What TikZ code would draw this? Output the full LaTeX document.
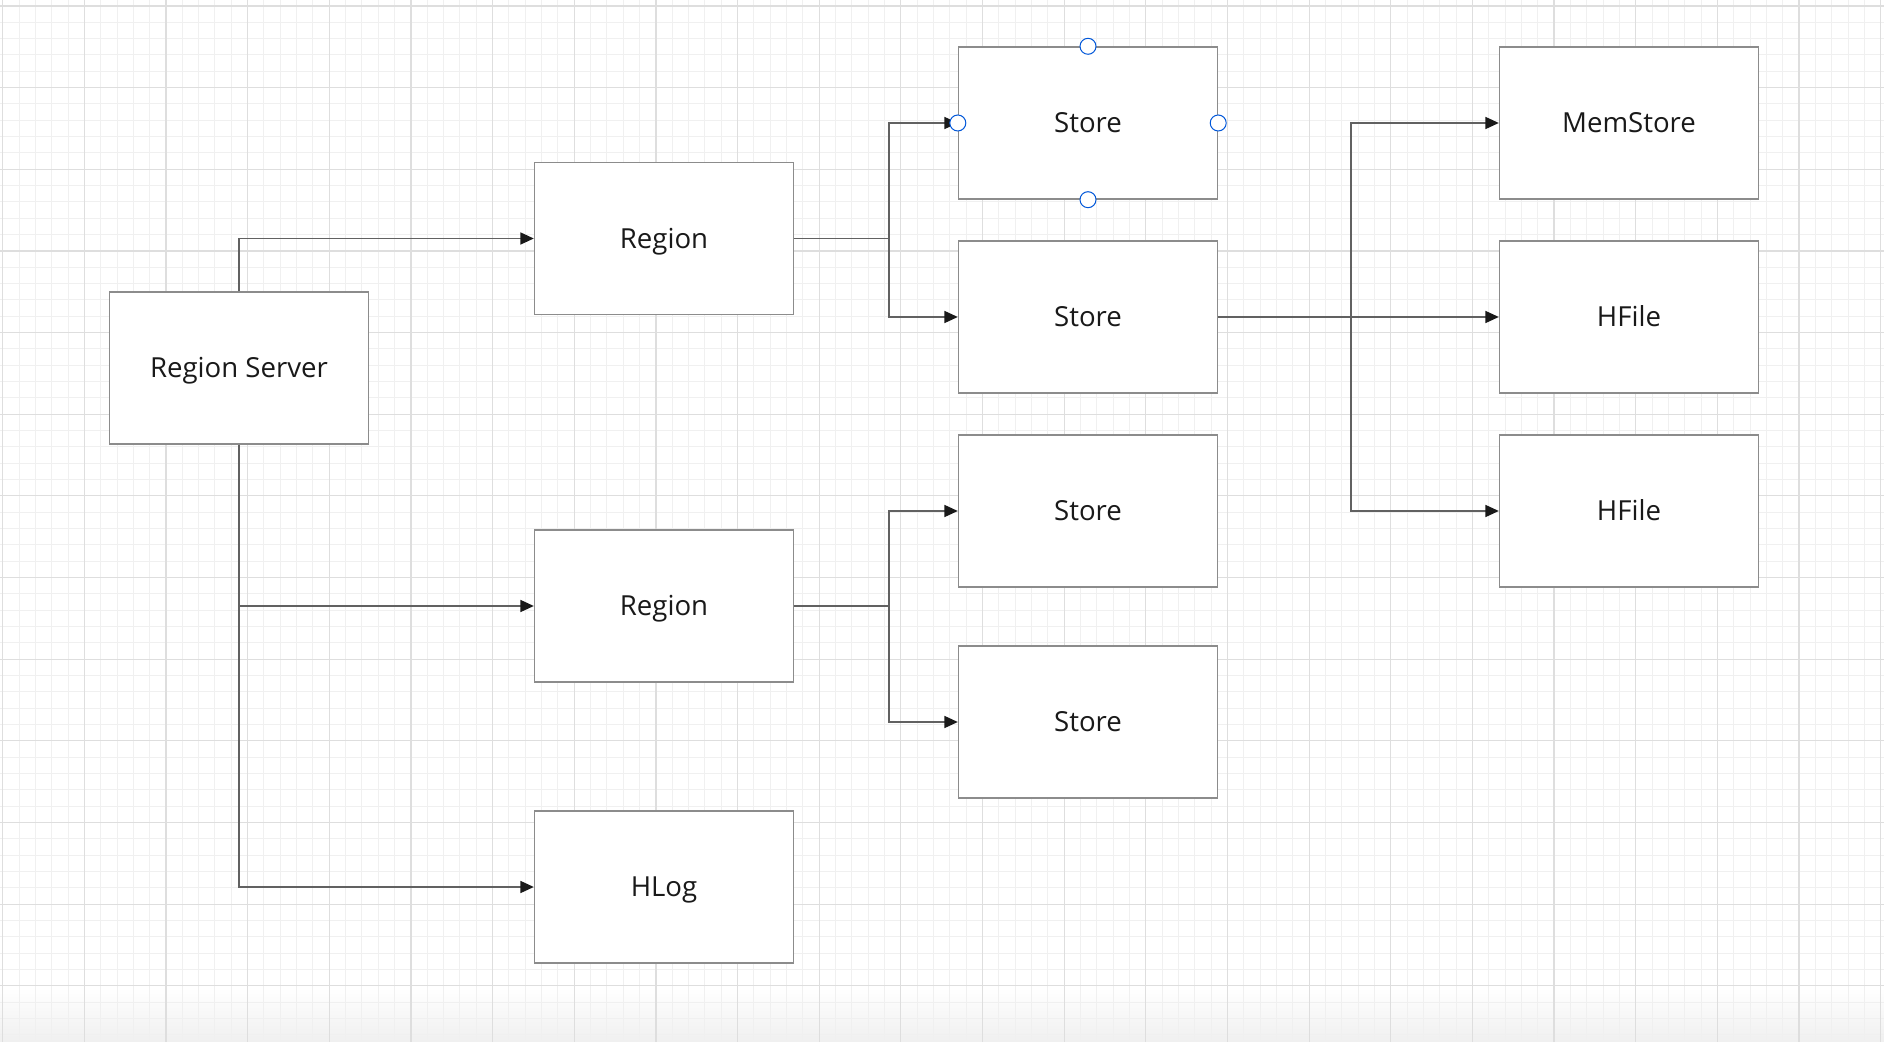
\documentclass[tikz,border=0pt]{standalone}
\usepackage{fontspec}
\setmainfont{Open Sans}
\usetikzlibrary{arrows.meta}

\begin{document}
\begin{tikzpicture}[x=0.5pt,y=-0.5pt,
    box/.style={draw=black!45,line width=0.7pt,fill=white,
        minimum width=129.5pt,minimum height=76pt,inner sep=0pt,
        text height=9.9pt,text depth=0pt,
        text=black!90,font=\fontsize{13.8}{16}\selectfont},
    link/.style={draw=black!62,line width=0.75pt,
        -{Triangle[length=6.7pt,width=6pt,color=black!90,fill=black!90]}},
    gridminor/.style={draw=black!6,line width=0.5pt},
    gridmajor/.style={draw=black!13,line width=0.6pt},
    handle/.style={draw=blue!60!cyan!85!black,line width=0.5pt,fill=white}]

    \useasboundingbox (0,0) rectangle (1884,1042);
    \fill[white] (0,0) rectangle (1884,1042);
    \shade[top color=white,bottom color=black!6] (0,988) rectangle (1884,1042);

    % grid
    \foreach \i in {0,...,115}
        \draw[gridminor] ({2.7+16.33*\i},0) -- ++(0,1042);
    \foreach \j in {0,...,63}
        \draw[gridminor] (0,{6+16.33*\j}) -- ++(1884,0);
    \foreach \i in {0,...,23}
        \draw[gridmajor] ({2.7+81.65*\i},0) -- ++(0,1042);
    \foreach \j in {0,...,12}
        \draw[gridmajor] (0,{6+81.65*\j}) -- ++(1884,0);

    \node[box] (rs) at (239,368) {Region Server};

    \node[box] (reg1) at (664,238.5) {Region};
    \node[box] (reg2) at (664,606) {Region};
    \node[box] (hlog) at (664,887) {HLog};

    \node[box] (st1) at (1088,123) {Store};
    \node[box] (st2) at (1088,317) {Store};
    \node[box] (st3) at (1088,511) {Store};
    \node[box] (st4) at (1088,722) {Store};

    \node[box] (mem) at (1629,123) {MemStore};
    \node[box] (hf1) at (1629,317) {HFile};
    \node[box] (hf2) at (1629,511) {HFile};

    \coordinate (j1) at (889,238.5);
    \coordinate (j2) at (889,606);
    \coordinate (j3) at (1351,317);

    \draw[link] (rs.north) |- (reg1.west);
    \draw[link] (rs.south) |- (reg2.west);
    \draw[link] (rs.south) |- (hlog.west);

    \draw[link] (reg1.east) -- (j1) |- (st1.west);
    \draw[link] (reg1.east) -- (j1) |- (st2.west);
    \draw[link] (reg2.east) -- (j2) |- (st3.west);
    \draw[link] (reg2.east) -- (j2) |- (st4.west);

    \draw[link] (st2.east) -- (j3) |- (mem.west);
    \draw[link] (st2.east) -- (hf1.west);
    \draw[link] (st2.east) -- (j3) |- (hf2.west);

    \foreach \a in {north,south,west,east}
        \draw[handle] (st1.\a) circle[radius=4pt];
\end{tikzpicture}
\end{document}
